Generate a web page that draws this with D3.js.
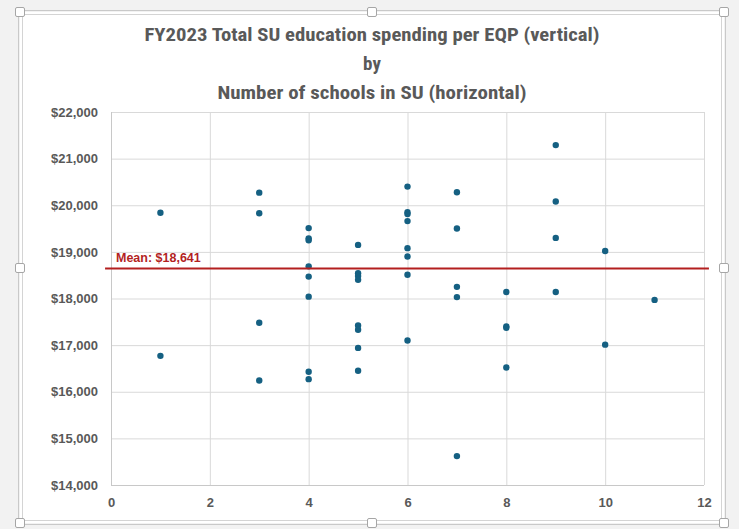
<!DOCTYPE html>
<html>
<head>
<style>
  body { margin: 0; background: #f2f2f2; }
  svg { display: block; }
</style>
</head>
<body>
<svg width="739" height="529"></svg>
<script src="https://cdn.jsdelivr.net/npm/d3@7"></script>
<script>
  // number of schools in each SU (x) and total spending per EQP (y)
  var schools = [
    1, 1,
    3, 3, 3, 3,
    4, 4, 4, 4, 4, 4, 4, 4,
    5, 5, 5, 5, 5, 5, 5, 5,
    6, 6, 6, 6, 6, 6, 6, 6,
    7, 7, 7, 7, 7,
    8, 8, 8, 8,
    9, 9, 9, 9,
    10, 10,
    11
  ];
  var spending = [
    19840, 16770,
    20270, 19830, 17480, 16240,
    19510, 19290, 19250, 18690, 18470, 18040, 16430, 16270,
    19150, 18540, 18480, 18400, 17420, 17330, 16940, 16450,
    20400, 19850, 19810, 19660, 19080, 18900, 18510, 17100,
    20280, 19500, 18250, 18030, 14620,
    18140, 17400, 17370, 16520,
    21290, 20080, 19300, 18140,
    19020, 17010,
    17970
  ];
  var meanValue = 18641;
  var meanSpan = [-0.12, 12.1];

  var xTicks = [0, 2, 4, 6, 8, 10, 12];
  var yTicks = [14000, 15000, 16000, 17000, 18000, 19000, 20000, 21000, 22000];

  var titleLines = [
    "FY2023 Total SU education spending per EQP (vertical)",
    "by",
    "Number of schools in SU (horizontal)"
  ];

  var svg = d3.select("svg"),
      plot = {left: 111, right: 704, top: 112, bottom: 485};

  var grey = "#595959",
      gridColor = "#d9d9d9",
      dotColor = "#156082",
      meanColor = "#b31f1f";

  var data = schools.map(function(s, i) { return {n: s, v: spending[i]}; });

  var x = d3.scaleLinear().domain([0, 12]).range([plot.left, plot.right]);
  var y = d3.scaleLinear().domain([14000, 22000]).range([plot.bottom, plot.top]);

  // chart area and selection frame
  svg.append("rect")
      .attr("x", 20).attr("y", 12)
      .attr("width", 704).attr("height", 511)
      .attr("fill", "#fff");

  svg.append("rect")
      .attr("x", 18.5).attr("y", 10.5)
      .attr("width", 707).attr("height", 514)
      .attr("fill", "none")
      .attr("stroke", "#c9c9c9");

  svg.append("rect")
      .attr("x", 22.5).attr("y", 14.5)
      .attr("width", 699).attr("height", 506)
      .attr("fill", "none")
      .attr("stroke", "#d4d4d4");

  // title
  var titleWidths = [455, 20, 309];
  var title = svg.append("g")
      .attr("font-family", "'Liberation Sans Narrow', 'Roboto Condensed', 'Liberation Sans', sans-serif")
      .attr("font-weight", "bold")
      .attr("font-size", 19)
      .attr("fill", grey)
      .attr("text-anchor", "middle");

  title.selectAll("text")
      .data(titleLines)
    .enter().append("text")
      .attr("x", 372)
      .attr("y", function(d, i) { return 41 + i * 29; })
      .text(function(d) { return d; })
      .each(function(d, i) {
        if (i !== 1) {
          d3.select(this)
              .attr("textLength", titleWidths[i])
              .attr("lengthAdjust", "spacingAndGlyphs");
        }
      });

  // axes with gridlines
  var yAxis = svg.append("g")
      .attr("transform", "translate(" + plot.left + ",0)")
      .call(d3.axisLeft(y)
          .tickValues(yTicks)
          .tickSize(-(plot.right - plot.left))
          .tickPadding(13)
          .tickFormat(d3.format("$,")));

  var xAxis = svg.append("g")
      .attr("transform", "translate(0," + plot.bottom + ")")
      .call(d3.axisBottom(x)
          .tickValues(xTicks)
          .tickSize(-(plot.bottom - plot.top))
          .tickPadding(13));

  [yAxis, xAxis].forEach(function(ax) {
    ax.select(".domain").remove();
    ax.selectAll(".tick line").attr("stroke", gridColor);
    ax.selectAll(".tick text")
        .attr("fill", grey)
        .attr("font-family", "'Liberation Sans', Arial, sans-serif")
        .attr("font-weight", "bold")
        .attr("font-size", 13);
  });

  // axis lines
  svg.append("line")
      .attr("x1", plot.left + 0.5).attr("x2", plot.left + 0.5)
      .attr("y1", plot.top).attr("y2", plot.bottom)
      .attr("stroke", "#c8c8c8");
  svg.append("line")
      .attr("x1", plot.left).attr("x2", plot.right)
      .attr("y1", plot.bottom + 0.5).attr("y2", plot.bottom + 0.5)
      .attr("stroke", "#c8c8c8");

  // points
  svg.append("g")
    .selectAll("circle")
      .data(data)
    .enter().append("circle")
      .attr("cx", function(d) { return x(d.n); })
      .attr("cy", function(d) { return y(d.v); })
      .attr("r", 3.2)
      .attr("fill", dotColor);

  // mean line and label
  svg.append("line")
      .attr("x1", x(meanSpan[0])).attr("x2", x(meanSpan[1]))
      .attr("y1", y(meanValue)).attr("y2", y(meanValue))
      .attr("stroke", meanColor)
      .attr("stroke-width", 2);

  svg.append("text")
      .attr("x", plot.left + 5)
      .attr("y", y(meanValue) - 7)
      .attr("fill", meanColor)
      .attr("font-family", "'Liberation Sans', Arial, sans-serif")
      .attr("font-weight", "bold")
      .attr("font-size", 12.5)
      .text("Mean: " + d3.format("$,")(meanValue));

  // selection handles
  var handles = [[20, 12], [372, 12], [724, 12], [20, 268], [724, 268], [20, 523], [372, 523], [724, 523]];
  svg.append("g")
    .selectAll("rect")
      .data(handles)
    .enter().append("rect")
      .attr("x", function(d) { return d[0] - 4.5; })
      .attr("y", function(d) { return d[1] - 4.5; })
      .attr("width", 9).attr("height", 9)
      .attr("rx", 1.5)
      .attr("fill", "#fff")
      .attr("stroke", "#a6a6a6");
</script>
</body>
</html>
